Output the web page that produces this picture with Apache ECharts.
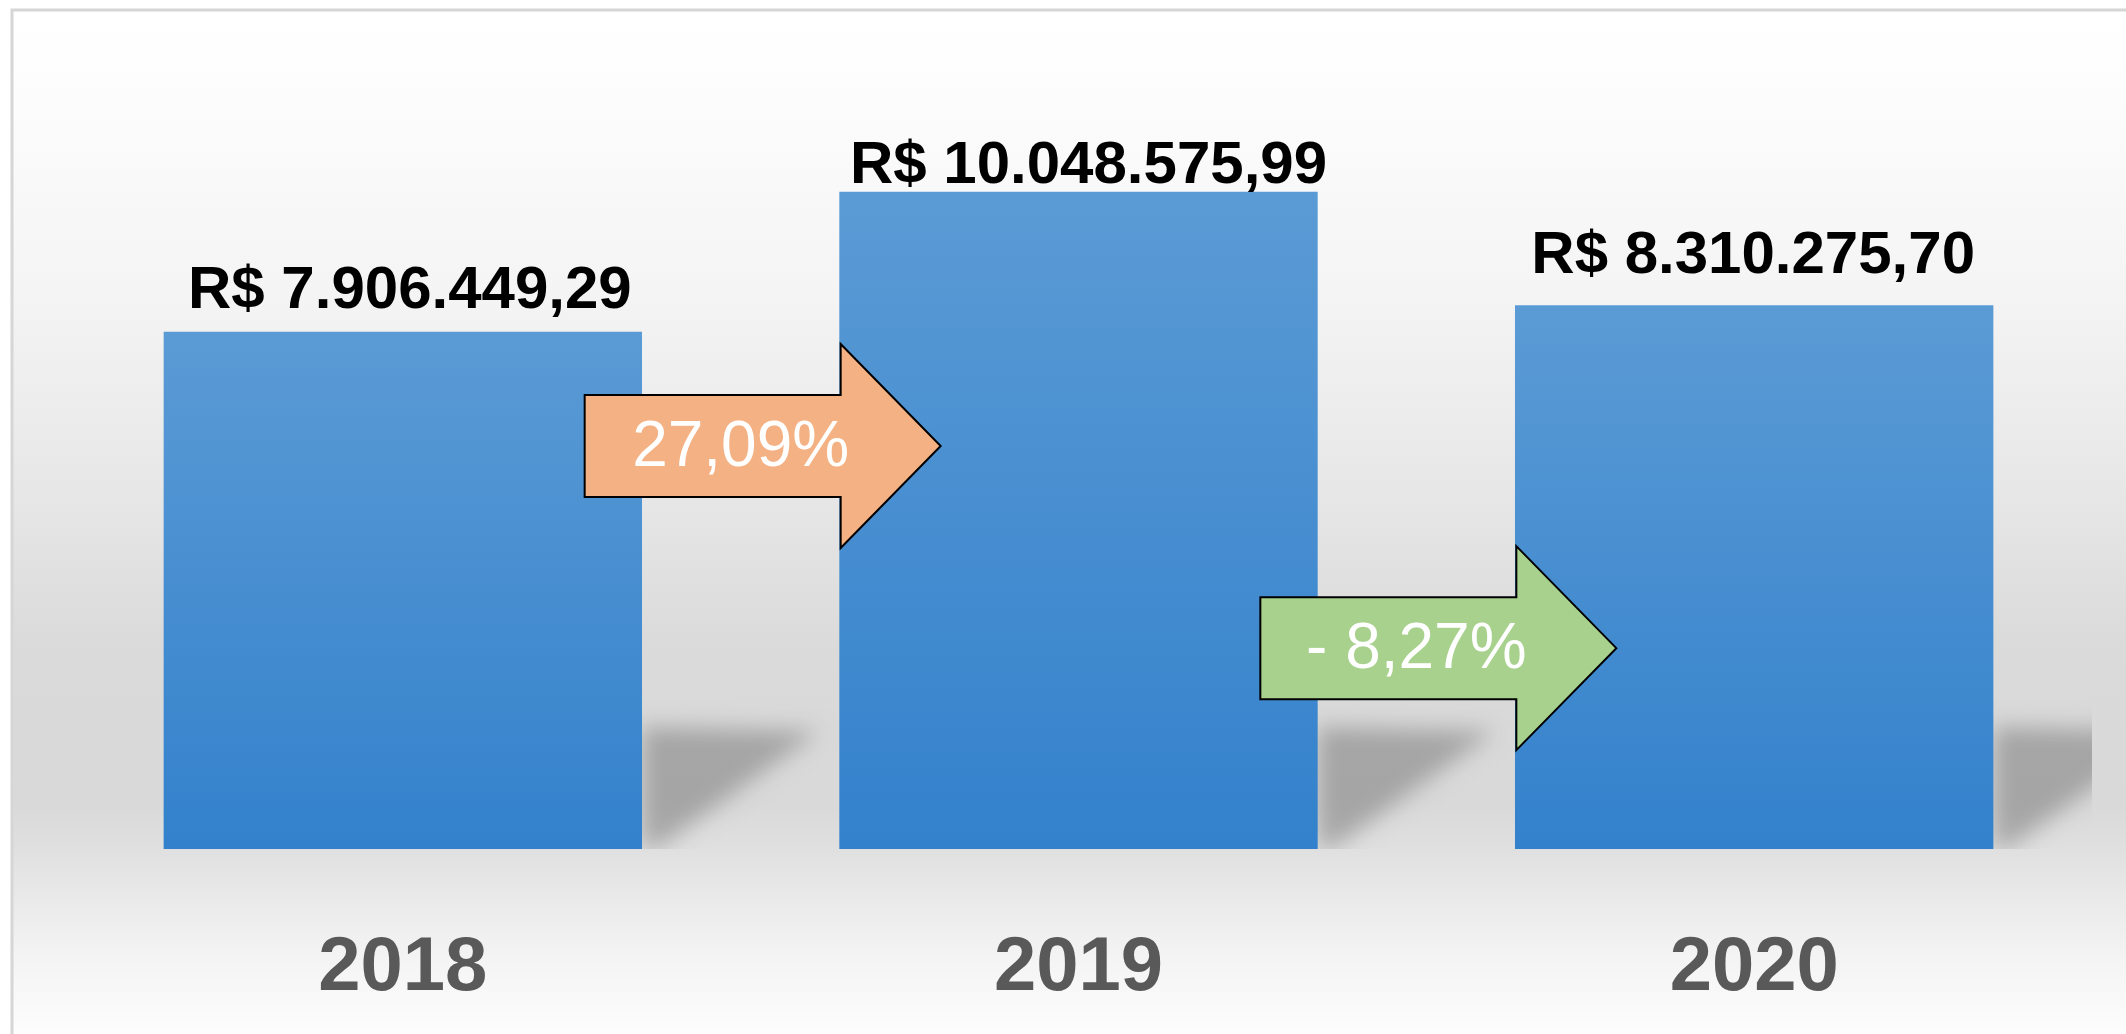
<!DOCTYPE html>
<html>
<head>
<meta charset="utf-8">
<script src="https://cdn.jsdelivr.net/npm/echarts@6/dist/echarts.min.js"></script>
<style>
  html, body { margin: 0; padding: 0; background: #fff; }
  #chart { width: 2126px; height: 1034px; }
</style>
</head>
<body>
<div id="chart"></div>
<script>
const years = ["2018", "2019", "2020"];
const revenue = [7906449.29, 10048575.99, 8310275.70];
const changeLabels = ["27,09%", "- 8,27%"];
const changeLevels = [6160000, 3070000];
const changeColors = ["#F4B183", "#A9D18E"];

// os rótulos no original foram posicionados à mão
const labelNudge = [[7, 2], [10, 17], [-1, -7]];

const brl = (v) => {
  const [int, dec] = v.toFixed(2).split(".");
  return "R$ " + int.replace(/\B(?=(\d{3})+(?!\d))/g, ".") + "," + dec;
};

const BAR_RATIO = 0.708;

const chart = echarts.init(document.getElementById("chart"));

const option = {
  animation: false,
  graphic: [
    {
      type: "rect",
      z: -10,
      silent: true,
      shape: { x: 12, y: 10, width: 2200, height: 1030 },
      style: {
        fill: new echarts.graphic.LinearGradient(0, 0, 0, 1, [
          { offset: 0, color: "#ffffff" },
          { offset: 0.05, color: "#fefefe" },
          { offset: 0.28, color: "#f4f4f4" },
          { offset: 0.48, color: "#e6e6e6" },
          { offset: 0.62, color: "#dadada" },
          { offset: 0.77, color: "#d9d9d9" },
          { offset: 0.815, color: "#e0e0e0" },
          { offset: 0.864, color: "#eaeaea" },
          { offset: 0.92, color: "#f4f4f4" },
          { offset: 1, color: "#fefefe" },
        ]),
        stroke: "#d6d6d6",
        lineWidth: 3,
      },
    },
  ],
  grid: {
    left: 65,
    right: 34,
    top: 64,
    bottom: 185,
  },
  xAxis: {
    type: "category",
    data: years,
    axisLine: { show: false },
    axisTick: { show: false },
    axisLabel: {
      margin: 82,
      fontSize: 76,
      fontWeight: "bold",
      fontFamily: "Liberation Sans",
      color: "#595959",
    },
  },
  yAxis: {
    type: "value",
    min: 0,
    max: 12000000,
    show: false,
    splitLine: { show: false },
  },
  series: [
    {
      // sombra em perspectiva atrás das barras
      type: "custom",
      z: 1,
      clip: true,
      silent: true,
      data: revenue.map((v, i) => [i, v]),
      renderItem: (params, api) => {
        const c = api.coord([api.value(0), 0]);
        const w = api.size([1, 0])[0];
        const right = c[0] + (w * BAR_RATIO) / 2;
        const b = c[1];
        const off = 4000;
        return {
          type: "polygon",
          shape: {
            points: [
              [right - off, b - 122],
              [right + 177 - off, b - 118],
              [right + 14 - off, b],
              [right - off, b],
            ],
          },
          style: {
            fill: "#000",
            shadowColor: "rgba(0,0,0,0.24)",
            shadowBlur: 22,
            shadowOffsetX: off,
          },
        };
      },
    },
    {
      type: "bar",
      z: 2,
      data: revenue.map((v, i) => ({ value: v, label: { offset: labelNudge[i] } })),
      barWidth: BAR_RATIO * 100 + "%",
      itemStyle: {
        color: new echarts.graphic.LinearGradient(0, 0, 0, 1, [
          { offset: 0, color: "#5B9BD5" },
          { offset: 1, color: "#3381CC" },
        ]),
      },
      label: {
        show: true,
        position: "top",
        distance: 12,
        formatter: (p) => brl(p.value),
        fontSize: 60,
        fontWeight: "bold",
        fontFamily: "Liberation Sans",
        color: "#000",
      },
    },
    {
      // setas de variação entre os anos
      type: "custom",
      z: 5,
      silent: true,
      data: changeLevels.map((v, i) => [i, v]),
      renderItem: (params, api) => {
        const c = api.coord([api.value(0), api.value(1)]);
        const w = api.size([1, 0])[0];
        const x0 = c[0] + w / 2;
        const y = c[1];
        const pts = [
          [x0 - 156, y - 51],
          [x0 + 100, y - 51],
          [x0 + 100, y - 102],
          [x0 + 200, y],
          [x0 + 100, y + 102],
          [x0 + 100, y + 51],
          [x0 - 156, y + 51],
        ];
        return {
          type: "group",
          children: [
            {
              type: "polygon",
              shape: { points: pts },
              style: {
                fill: changeColors[params.dataIndex],
                stroke: "#000",
                lineWidth: 2,
              },
            },
            {
              type: "text",
              x: x0,
              y: y + 2,
              style: {
                text: changeLabels[params.dataIndex],
                fill: "#fff",
                font: '64px "Liberation Sans"',
                align: "center",
                verticalAlign: "middle",
              },
            },
          ],
        };
      },
    },
  ],
};

chart.setOption(option);
</script>
</body>
</html>
